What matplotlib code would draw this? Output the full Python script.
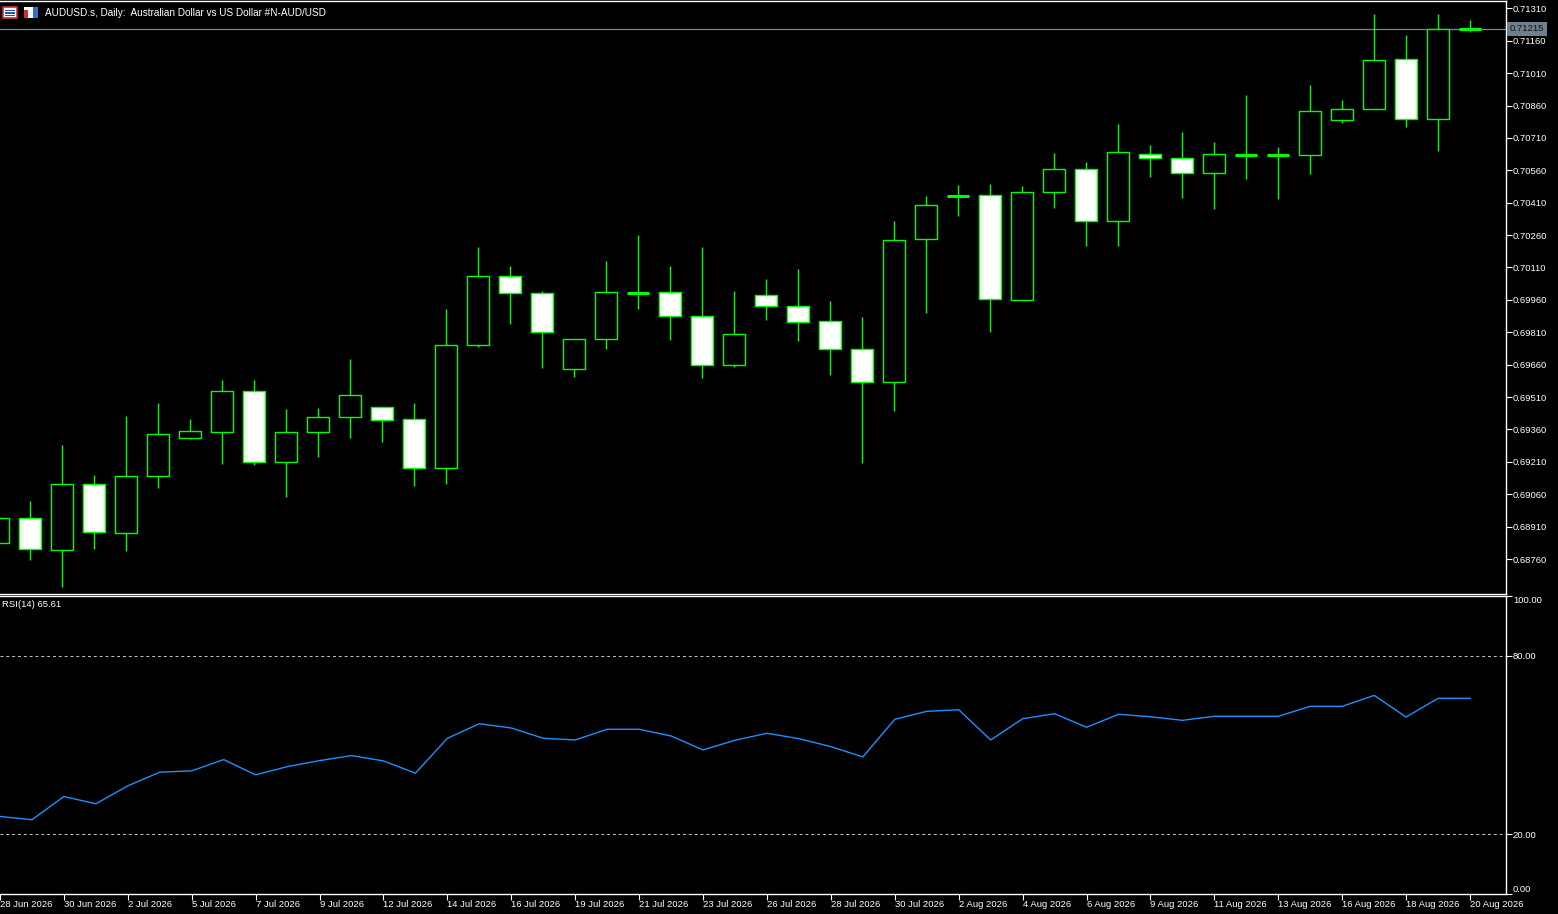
"""AUDUSD daily candles with RSI(14), MT4 style."""

import matplotlib

matplotlib.use("Agg")
import matplotlib.pyplot as plt
import matplotlib.transforms as mtransforms
from matplotlib.patches import Rectangle

dates = [
    "28 Jun 2026", "29 Jun 2026", "30 Jun 2026", "1 Jul 2026", "2 Jul 2026", "3 Jul 2026",
    "5 Jul 2026", "6 Jul 2026", "7 Jul 2026", "8 Jul 2026", "9 Jul 2026", "10 Jul 2026",
    "12 Jul 2026", "13 Jul 2026", "14 Jul 2026", "15 Jul 2026", "16 Jul 2026", "17 Jul 2026",
    "19 Jul 2026", "20 Jul 2026", "21 Jul 2026", "22 Jul 2026", "23 Jul 2026", "24 Jul 2026",
    "26 Jul 2026", "27 Jul 2026", "28 Jul 2026", "29 Jul 2026", "30 Jul 2026", "31 Jul 2026",
    "2 Aug 2026", "3 Aug 2026", "4 Aug 2026", "5 Aug 2026", "6 Aug 2026", "7 Aug 2026",
    "9 Aug 2026", "10 Aug 2026", "11 Aug 2026", "12 Aug 2026", "13 Aug 2026", "14 Aug 2026",
    "16 Aug 2026", "17 Aug 2026", "18 Aug 2026", "19 Aug 2026", "20 Aug 2026",
]

opens = [
    0.68833, 0.68949, 0.68801, 0.69106, 0.68879, 0.69143, 0.69319, 0.69347, 0.69537, 0.69208,
    0.69347, 0.69417, 0.69463, 0.69407, 0.69180, 0.69750, 0.70069, 0.69991, 0.69639, 0.69778,
    0.69993, 0.69995, 0.69884, 0.69657, 0.69981, 0.69930, 0.69861, 0.69731, 0.69579, 0.70241,
    0.70442, 0.70444, 0.69958, 0.70458, 0.70565, 0.70324, 0.70634, 0.70616, 0.70546, 0.70632,
    0.70632, 0.70629, 0.70792, 0.70842, 0.71074, 0.70796, 0.71213,
]
highs = [
    0.68978, 0.69029, 0.69288, 0.69149, 0.69422, 0.69483, 0.69409, 0.69589, 0.69589, 0.69455,
    0.69460, 0.69686, 0.69463, 0.69483, 0.69918, 0.70205, 0.70117, 0.70001, 0.69778, 0.70140,
    0.70260, 0.70117, 0.70205, 0.70001, 0.70057, 0.70103, 0.69955, 0.69881, 0.70325, 0.70441,
    0.70492, 0.70497, 0.70487, 0.70640, 0.70598, 0.70774, 0.70677, 0.70737, 0.70691, 0.70909,
    0.70668, 0.70955, 0.70886, 0.71284, 0.71186, 0.71284, 0.71256,
]
lows = [
    0.68811, 0.68756, 0.68632, 0.68808, 0.68799, 0.69091, 0.69315, 0.69202, 0.69197, 0.69049,
    0.69234, 0.69322, 0.69304, 0.69100, 0.69109, 0.69743, 0.69850, 0.69646, 0.69604, 0.69734,
    0.69919, 0.69776, 0.69600, 0.69648, 0.69868, 0.69771, 0.69614, 0.69206, 0.69447, 0.69901,
    0.70350, 0.69813, 0.69958, 0.70387, 0.70211, 0.70211, 0.70530, 0.70433, 0.70382, 0.70521,
    0.70429, 0.70544, 0.70778, 0.70842, 0.70759, 0.70651, 0.71202,
]
closes = [
    0.68949, 0.68805, 0.69106, 0.68884, 0.69143, 0.69338, 0.69352, 0.69537, 0.69208, 0.69347,
    0.69417, 0.69518, 0.69403, 0.69180, 0.69750, 0.70069, 0.69991, 0.69810, 0.69778, 0.69995,
    0.69993, 0.69884, 0.69657, 0.69801, 0.69930, 0.69856, 0.69731, 0.69579, 0.70236, 0.70398,
    0.70442, 0.69963, 0.70458, 0.70565, 0.70324, 0.70643, 0.70616, 0.70546, 0.70634, 0.70632,
    0.70632, 0.70833, 0.70842, 0.71069, 0.70796, 0.71213, 0.71215,
]
rsi = [
    25.90, 24.79, 32.60, 30.16, 36.19, 40.78, 41.22, 45.01, 39.88, 42.66,
    44.67, 46.35, 44.57, 40.45, 52.18, 57.07, 55.63, 52.18, 51.61, 55.20,
    55.20, 52.95, 48.26, 51.51, 53.86, 52.05, 49.36, 45.91, 58.55, 61.23,
    61.77, 51.61, 58.75, 60.43, 55.87, 60.23, 59.42, 58.21, 59.56, 59.56,
    59.56, 62.91, 62.91, 66.59, 59.32, 65.61, 65.61,
]

price_ticks = [0.71310, 0.71160, 0.71010, 0.70860, 0.70710, 0.70560, 0.70410, 0.70260, 0.70110,
               0.69960, 0.69810, 0.69660, 0.69510, 0.69360, 0.69210, 0.69060, 0.68910, 0.68760]
rsi_levels = [20, 80]
current_price = 0.71215

BG = "black"
FG = "white"
CANDLE = "#00ff00"
FONT = "Liberation Sans"
FS = 6.8

W, H = 1558, 914


def frame(x0, y0, x1, y1):
    return [x0 / W, 1 - y1 / H, (x1 - x0) / W, (y1 - y0) / H]


fig = plt.figure(figsize=(W / 100, H / 100), dpi=100, facecolor=BG)
ax = fig.add_axes(frame(0, 1, 1506, 594))
ax2 = fig.add_axes(frame(0, 596, 1506, 893.5))

for a in (ax, ax2):
    a.set_facecolor(BG)
    a.spines["left"].set_visible(False)
    for s in ("top", "right", "bottom"):
        a.spines[s].set_color(FG)
        a.spines[s].set_linewidth(1.0)
    a.set_xlim(0.0625, 47.125)

# candles
n = len(opens)
bw = 0.66
for i in range(n):
    o, h, l, c = opens[i], highs[i], lows[i], closes[i]
    ax.vlines(i, l, h, color=CANDLE, lw=1.0, zorder=2)
    if abs(c - o) < 0.00003:
        ax.hlines(o, i - bw / 2, i + bw / 2, color=CANDLE, lw=2.2, zorder=3)
    else:
        face = "white" if c < o else "black"
        ax.add_patch(Rectangle((i - bw / 2, min(o, c)), bw, abs(c - o),
                               facecolor=face, edgecolor=CANDLE, lw=1.0, zorder=3))

ax.set_ylim(0.68598, 0.71344)
ax.axhline(current_price, color="#778899", lw=0.9, zorder=1)

ax.yaxis.tick_right()
ax.set_yticks(price_ticks)
ax.set_yticklabels([f"{t:.5f}" for t in price_ticks])
ax.tick_params(axis="y", colors=FG, length=4, width=0.8, pad=1, labelsize=FS)
ax.set_xticks([])
for lab in ax.get_yticklabels():
    lab.set_fontfamily(FONT)

trans = mtransforms.blended_transform_factory(ax.transAxes, ax.transData)
ax.text(1.0025, current_price, f"{current_price:.5f}", transform=trans, ha="left", va="center",
        fontsize=FS, family=FONT, color="#111111", zorder=5,
        bbox=dict(boxstyle="square,pad=0.3", facecolor="#6e7f8e", edgecolor="none"))

# RSI panel
ax2.plot(range(n), rsi, color="#1e90ff", lw=1.0)
for lv in rsi_levels:
    ax2.axhline(lv, color="#c8c8c8", lw=0.7, ls=(0, (3, 3)))
ax2.set_ylim(0, 100)
ax2.yaxis.tick_right()
ax2.set_yticks([0, 20, 80, 100])
ax2.set_yticklabels(["0.00", "20.00", "80.00", "100.00"])
ax2.tick_params(axis="y", colors=FG, length=4, width=0.8, pad=1, labelsize=FS)
labs = ax2.get_yticklabels()
labs[0].set_va("bottom")
labs[3].set_va("top")
for lab in labs:
    lab.set_fontfamily(FONT)

ax2.set_xticks(range(0, n, 2))
ax2.set_xticklabels([dates[i] for i in range(0, n, 2)], ha="left")
ax2.tick_params(axis="x", colors=FG, length=4, width=0.8, pad=0.5, labelsize=FS)
for lab in ax2.get_xticklabels():
    lab.set_fontfamily(FONT)

ax2.text(0.0015, 0.985, "RSI(14) 65.61", transform=ax2.transAxes, ha="left", va="top",
         fontsize=FS, family=FONT, color=FG)

# header
fig.text(45 / W, 1 - 12.5 / H, "AUDUSD.s, Daily:  Australian Dollar vs US Dollar #N-AUD/USD",
         ha="left", va="center", fontsize=FS + 0.4, family=FONT, color=FG)

# small toolbar icons
fig.patches.append(Rectangle((3 / W, 1 - 18 / H), 14 / W, 11 / H, transform=fig.transFigure,
                             facecolor="white", edgecolor="#d03030", lw=1.2))
for yy in (10.5, 13, 15.5):
    fig.patches.append(Rectangle((5 / W, 1 - yy / H - 0.5 / H), 10 / W, 1.2 / H,
                                 transform=fig.transFigure, facecolor="#3050c0", edgecolor="none"))
fig.patches.append(Rectangle((24 / W, 1 - 18 / H), 14 / W, 11 / H, transform=fig.transFigure,
                             facecolor="white", edgecolor="none"))
fig.patches.append(Rectangle((24 / W, 1 - 18 / H), 4 / W, 8 / H, transform=fig.transFigure,
                             facecolor="#d03030", edgecolor="none"))
fig.patches.append(Rectangle((33 / W, 1 - 18 / H), 5 / W, 11 / H, transform=fig.transFigure,
                             facecolor="#3070d0", edgecolor="none"))

fig.savefig("out.png", dpi=100, facecolor=BG)
